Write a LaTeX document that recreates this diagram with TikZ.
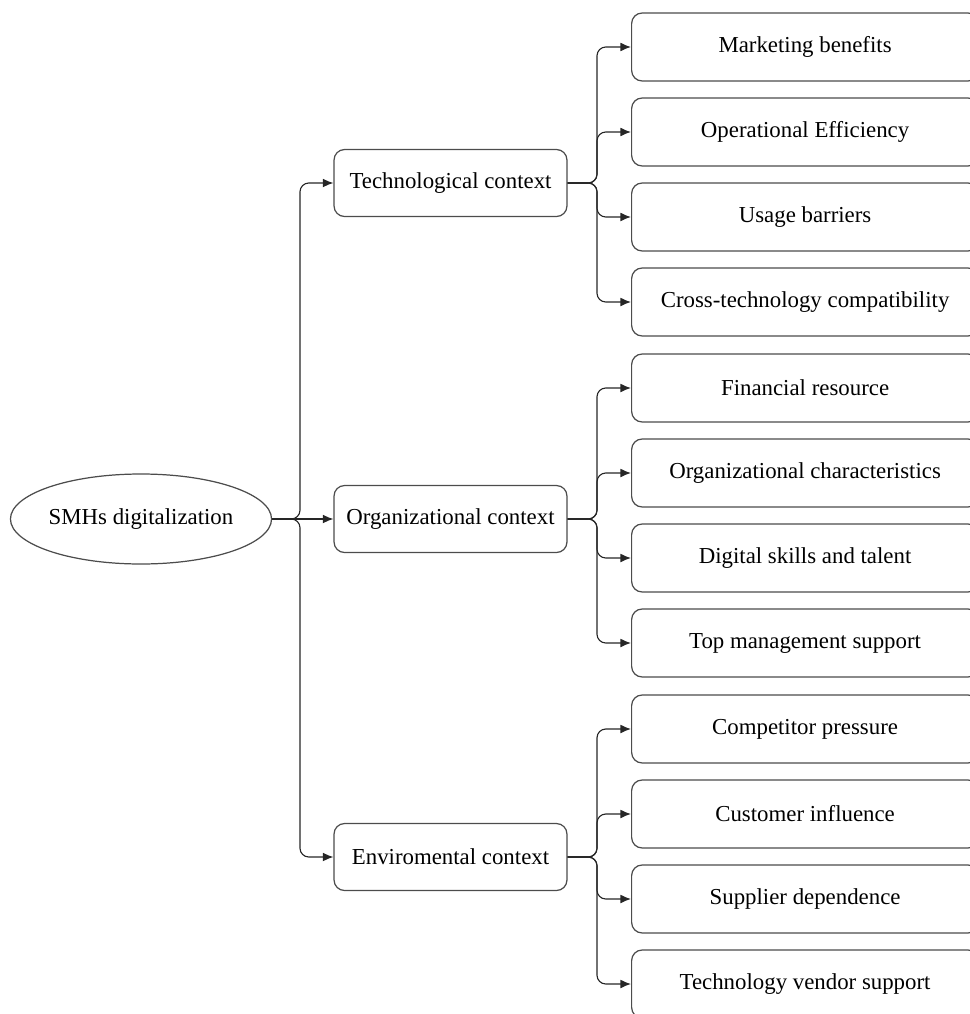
\documentclass[tikz,border=0pt]{standalone}
\usepackage{fontspec}
\setmainfont{Liberation Serif}
\usetikzlibrary{arrows.meta,shapes.geometric}

\tikzset{
  ctx/.style={draw=black!70, line width=0.7pt, rounded corners=6pt,
    minimum width=4.66cm, minimum height=1.34cm},
  fac/.style={draw=black!70, line width=0.7pt, rounded corners=6pt,
    minimum width=6.94cm, minimum height=1.36cm, anchor=west},
  link/.style={draw=black!85, line width=0.65pt, rounded corners=5pt,
    -{Latex[length=6pt,width=5pt]}}
}

\begin{document}
\begin{tikzpicture}[x=0.02cm,y=-0.02cm,font=\fontsize{13}{15}\selectfont]
\useasboundingbox (0,0) rectangle (970,1014);
\clip (0,0) rectangle (970,1014);

   \node[ellipse,draw=black!70,line width=0.7pt,inner sep=0pt,minimum width=5.14cm,minimum height=1.8cm] at (141,519) (SMH) {SMHs digitalization};

   \node[ctx] at (450.5,183) (Tech) {Technological context};
   \node[ctx] at (450.5,519) (Org) {Organizational context};
   \node[ctx] at (450.5,857) (Env) {Enviromental context};

   \node[fac] at (631,47)  (MB) {Marketing benefits};
   \node[fac] at (631,132) (OE) {Operational Efficiency};
   \node[fac] at (631,217) (UB) {Usage barriers};
   \node[fac] at (631,302) (CT) {Cross-technology compatibility};
   \node[fac] at (631,388) (FR) {Financial resource};
   \node[fac] at (631,473) (OC) {Organizational characteristics};
   \node[fac] at (631,558) (DS) {Digital skills and talent};
   \node[fac] at (631,643) (TM) {Top management support};
   \node[fac] at (631,729) (CP) {Competitor pressure};
   \node[fac] at (631,814) (CI) {Customer influence};
   \node[fac] at (631,899) (SD) {Supplier dependence};
   \node[fac] at (631,984) (TV) {Technology vendor support};

   % junctions
   \coordinate (J0) at (300,519);
   \coordinate (J1) at (597,183);
   \coordinate (J2) at (597,519);
   \coordinate (J3) at (597,857);

   \draw[link] (SMH.east) -- (J0) |- (Tech.west);
   \draw[link] (SMH.east) -- (Org.west);
   \draw[link] (SMH.east) -- (J0) |- (Env.west);

   \draw[link] (Tech.east) -- (J1) |- (MB.west);
   \draw[link] (Tech.east) -- (J1) |- (OE.west);
   \draw[link] (Tech.east) -- (J1) |- (UB.west);
   \draw[link] (Tech.east) -- (J1) |- (CT.west);

   \draw[link] (Org.east) -- (J2) |- (FR.west);
   \draw[link] (Org.east) -- (J2) |- (OC.west);
   \draw[link] (Org.east) -- (J2) |- (DS.west);
   \draw[link] (Org.east) -- (J2) |- (TM.west);

   \draw[link] (Env.east) -- (J3) |- (CP.west);
   \draw[link] (Env.east) -- (J3) |- (CI.west);
   \draw[link] (Env.east) -- (J3) |- (SD.west);
   \draw[link] (Env.east) -- (J3) |- (TV.west);

\end{tikzpicture}
\end{document}
